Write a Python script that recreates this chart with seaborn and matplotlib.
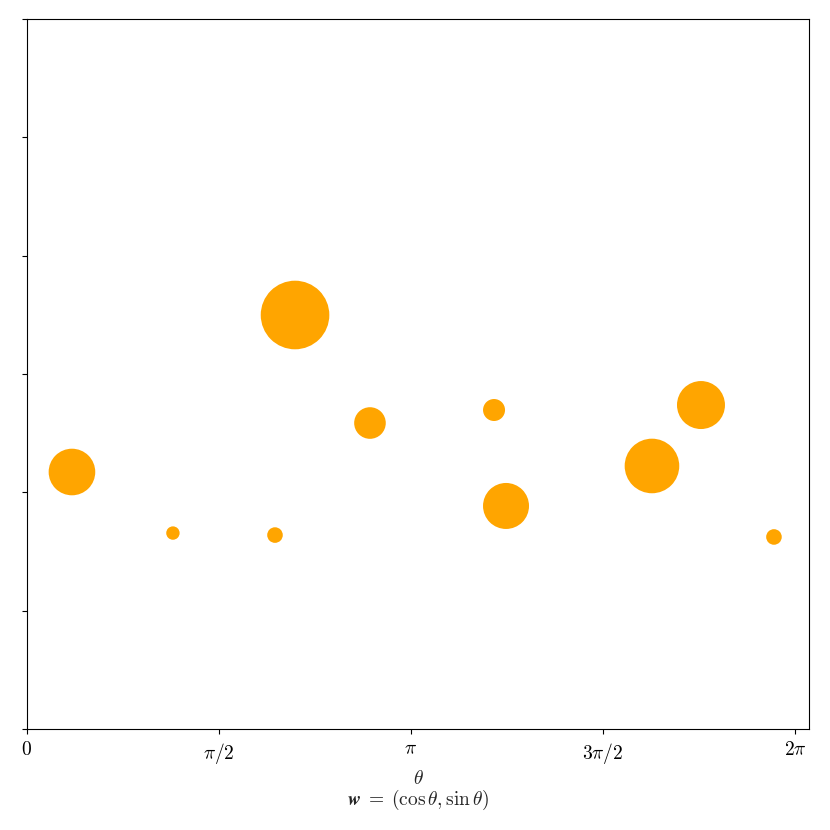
import numpy as np
import pandas as pd
import seaborn as sns
import matplotlib
matplotlib.use("Agg")
import matplotlib.pyplot as plt

theta = [0.368, 1.194, 2.029, 2.193, 2.806, 3.821, 3.919, 5.113, 5.514, 6.111]
yval = [2.172, 1.656, 1.639, 3.499, 2.586, 2.696, 1.885, 2.223, 2.738, 1.623]
size = [1126, 93, 126, 2440, 518, 251, 1097, 1545, 1194, 126]

xtick_pos = [0, np.pi / 2, np.pi, 3 * np.pi / 2, 2 * np.pi]
xtick_labels = [r"$0$", r"$\pi/2$", r"$\pi$", r"$3\pi/2$", r"$2\pi$"]
ytick_pos = [0, 1, 2, 3, 4, 5, 6]

sns.set_style("ticks")
plt.rcParams["mathtext.fontset"] = "cm"
plt.rcParams["font.family"] = ["serif"]
plt.rcParams["font.serif"] = ["cmr10", "DejaVu Serif"]
plt.rcParams["axes.formatter.use_mathtext"] = True

df = pd.DataFrame({"theta": theta, "y": yval, "s": size})

fig = plt.figure(figsize=(8.3, 8.3), dpi=100)
ax = fig.add_axes([0.0325, 0.1217, 0.9422, 0.8553])
sns.scatterplot(data=df, x="theta", y="y", size="s",
                sizes=(min(size), max(size)), color="orange",
                linewidth=0, alpha=1, legend=False, ax=ax)

ax.set_xlim(0, 2 * np.pi + 0.1145)
ax.set_ylim(0, 6)
ax.set_xticks(xtick_pos)
ax.set_xticklabels(xtick_labels, fontsize=14)
ax.set_yticks(ytick_pos)
ax.set_yticklabels([])
ax.set_xlabel(r"$\theta$" + "\n" + r"$\mathbfit{w}\;=\;(\cos\theta, \sin\theta)$",
              fontsize=14, linespacing=1.0, labelpad=3)
ax.set_ylabel("")
for sp in ax.spines.values():
    sp.set_visible(True)
    sp.set_color("black")
ax.tick_params(colors="black", pad=5)

fig.savefig("out.png", dpi=100)
